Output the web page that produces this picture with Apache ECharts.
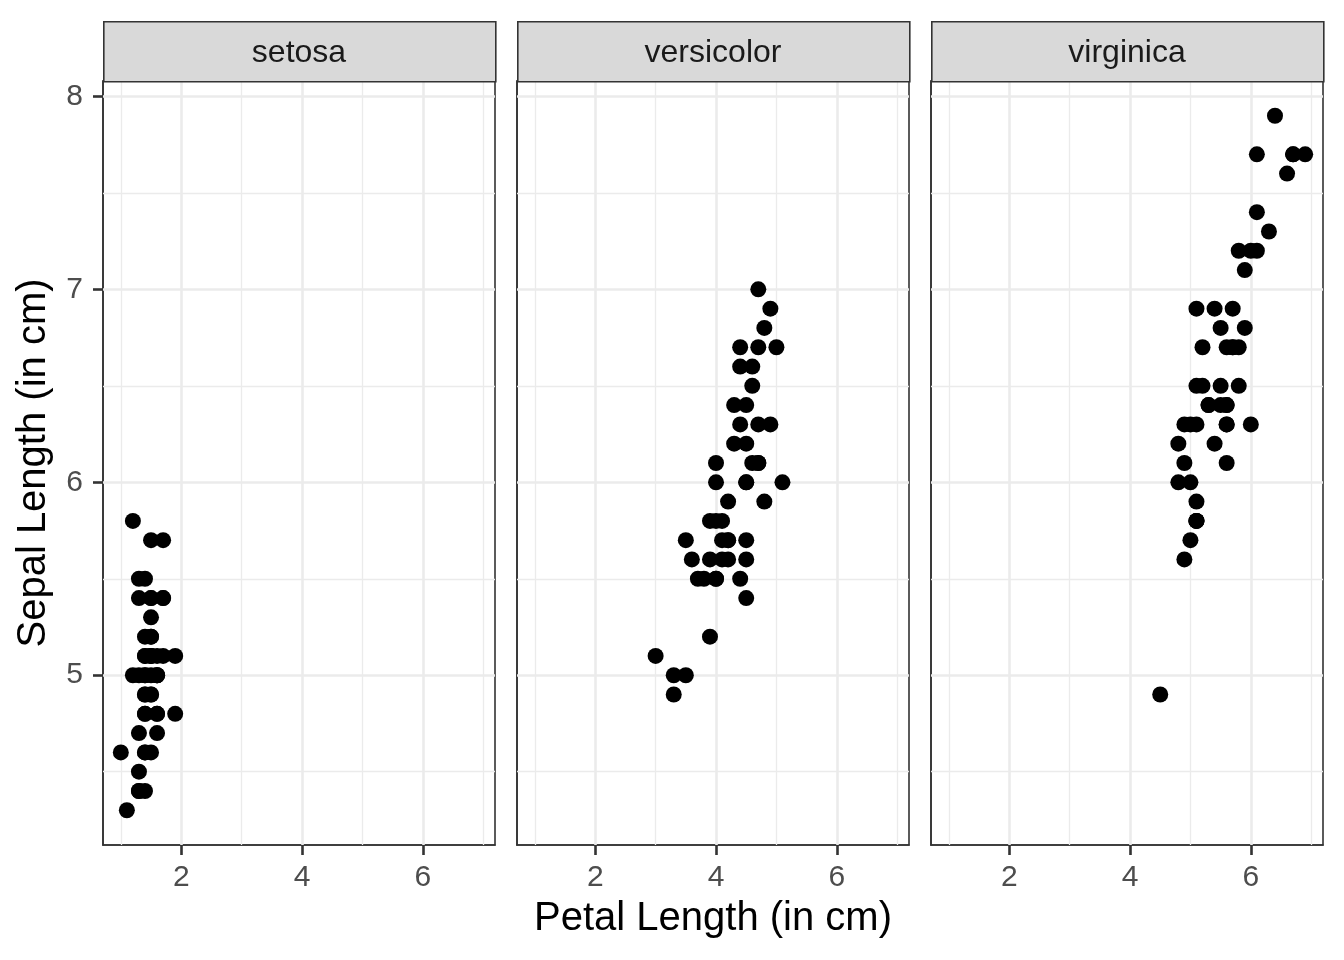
<!DOCTYPE html>
<html>
<head>
<meta charset="utf-8">
<script src="https://cdn.jsdelivr.net/npm/echarts@6/dist/echarts.min.js"></script>
<style>
html,body{margin:0;padding:0;background:#fff;}
#chart{width:1344px;height:960px;}
</style>
</head>
<body>
<div id="chart"></div>
<script>
// ---- data (iris: Petal.Length, Sepal.Length) ----
var species = ['setosa', 'versicolor', 'virginica'];
var setosaPetal = [1.4,1.4,1.3,1.5,1.4,1.7,1.4,1.5,1.4,1.5,1.5,1.6,1.4,1.1,1.2,1.5,1.3,1.4,1.7,1.5,1.7,1.5,1.0,1.7,1.9,1.6,1.6,1.5,1.4,1.6,1.6,1.5,1.5,1.4,1.5,1.2,1.3,1.4,1.3,1.5,1.3,1.3,1.3,1.6,1.9,1.4,1.6,1.4,1.5,1.4];
var setosaSepal = [5.1,4.9,4.7,4.6,5.0,5.4,4.6,5.0,4.4,4.9,5.4,4.8,4.8,4.3,5.8,5.7,5.4,5.1,5.7,5.1,5.4,5.1,4.6,5.1,4.8,5.0,5.0,5.2,5.2,4.7,4.8,5.4,5.2,5.5,4.9,5.0,5.5,4.9,4.4,5.1,5.0,4.5,4.4,5.0,5.1,4.8,5.1,4.6,5.3,5.0];
var versicolorPetal = [4.7,4.5,4.9,4.0,4.6,4.5,4.7,3.3,4.6,3.9,3.5,4.2,4.0,4.7,3.6,4.4,4.5,4.1,4.5,3.9,4.8,4.0,4.9,4.7,4.3,4.4,4.8,5.0,4.5,3.5,3.8,3.7,3.9,5.1,4.5,4.5,4.7,4.4,4.1,4.0,4.4,4.6,4.0,3.3,4.2,4.2,4.2,4.3,3.0,4.1];
var versicolorSepal = [7.0,6.4,6.9,5.5,6.5,5.7,6.3,4.9,6.6,5.2,5.0,5.9,6.0,6.1,5.6,6.7,5.6,5.8,6.2,5.6,5.9,6.1,6.3,6.1,6.4,6.6,6.8,6.7,6.0,5.7,5.5,5.5,5.8,6.0,5.4,6.0,6.7,6.3,5.6,5.5,5.5,6.1,5.8,5.0,5.6,5.7,5.7,6.2,5.1,5.7];
var virginicaPetal = [6.0,5.1,5.9,5.6,5.8,6.6,4.5,6.3,5.8,6.1,5.1,5.3,5.5,5.0,5.1,5.3,5.5,6.7,6.9,5.0,5.7,4.9,6.7,4.9,5.7,6.0,4.8,4.9,5.6,5.8,6.1,6.4,5.6,5.1,5.6,6.1,5.6,5.5,4.8,5.4,5.6,5.1,5.1,5.9,5.7,5.2,5.0,5.2,5.4,5.1];
var virginicaSepal = [6.3,5.8,7.1,6.3,6.5,7.6,4.9,7.3,6.7,7.2,6.5,6.4,6.8,5.7,5.8,6.4,6.5,7.7,7.7,6.0,6.9,5.6,7.7,6.3,6.7,7.2,6.2,6.1,6.4,7.2,7.4,7.9,6.4,6.3,6.1,7.7,6.3,6.4,6.0,6.9,6.7,6.9,5.8,6.8,6.7,6.7,6.3,6.5,6.2,5.9];

var xTicks = [2, 4, 6];
var xMinor = [1, 3, 5, 7];
var yTicks = [5, 6, 7, 8];
var yMinor = [4.5, 5.5, 6.5, 7.5];
var xRange = [0.705, 7.195];
var yRange = [4.12, 8.08];

var petal = [setosaPetal, versicolorPetal, virginicaPetal];
var sepal = [setosaSepal, versicolorSepal, virginicaSepal];

// ---- layout ----
var FONT = 'Liberation Sans, Arial, Helvetica, sans-serif';
var panelLeft = [103, 517, 931];
var panelW = 392;
var panelTop = 81;
var panelH = 764;
var stripTop = 21;
var stripH = 60;

var grids = [], xAxes = [], yAxes = [], series = [], graphics = [];

for (var i = 0; i < 3; i++) {
  grids.push({left: panelLeft[i], top: panelTop, width: panelW, height: panelH,
    show: true, borderColor: '#333333', borderWidth: 1.6, backgroundColor: '#ffffff', containLabel: false});
  var xa = {
    type: 'value', gridIndex: i, min: xRange[0], max: xRange[1],
    axisLine: {show: true, lineStyle: {color: '#333333', width: 1.6}},
    axisTick: {show: true, customValues: xTicks, length: 10, lineStyle: {color: '#333333', width: 2.6}},
    axisLabel: {show: true, customValues: xTicks, color: '#4D4D4D', fontSize: 30, fontFamily: FONT, margin: 18},
    splitLine: {show: false}
  };
  if (i === 1) {
    xa.name = 'Petal Length (in cm)';
    xa.nameLocation = 'middle';
    xa.nameGap = 54;
    xa.nameTextStyle = {color: '#000000', fontSize: 40, fontFamily: FONT};
  }
  xAxes.push(xa);
  var ya = {
    type: 'value', gridIndex: i, min: yRange[0], max: yRange[1],
    axisLine: {show: true, lineStyle: {color: '#333333', width: 1.6}},
    axisTick: {show: i === 0, customValues: yTicks, length: 10, lineStyle: {color: '#333333', width: 2.6}},
    axisLabel: {show: i === 0, customValues: yTicks, color: '#4D4D4D', fontSize: 30, fontFamily: FONT, margin: 20},
    splitLine: {show: false}
  };
  if (i === 0) {
    ya.name = 'Sepal Length (in cm)';
    ya.nameLocation = 'middle';
    ya.nameGap = 49;
    ya.nameTextStyle = {color: '#000000', fontSize: 40, fontFamily: FONT};
  }
  yAxes.push(ya);

  // grid lines via markLine
  var ml = [];
  xMinor.forEach(function (v) { ml.push({xAxis: v, lineStyle: {color: '#EBEBEB', width: 1.3, type: 'solid'}}); });
  yMinor.forEach(function (v) { ml.push({yAxis: v, lineStyle: {color: '#EBEBEB', width: 1.3, type: 'solid'}}); });
  xTicks.forEach(function (v) { ml.push({xAxis: v, lineStyle: {color: '#EBEBEB', width: 2.6, type: 'solid'}}); });
  yTicks.forEach(function (v) { ml.push({yAxis: v, lineStyle: {color: '#EBEBEB', width: 2.6, type: 'solid'}}); });
  series.push({
    type: 'scatter', xAxisIndex: i, yAxisIndex: i, data: [], z: 1, silent: true,
    markLine: {silent: true, symbol: ['none', 'none'], label: {show: false}, animation: false, data: ml}
  });

  var pts = petal[i].map(function (p, k) { return [p, sepal[i][k]]; });
  series.push({
    type: 'scatter', xAxisIndex: i, yAxisIndex: i, data: pts, z: 5,
    symbol: 'circle', symbolSize: 16, itemStyle: {color: '#000000', opacity: 1},
    animation: false
  });

  // facet strip
  graphics.push({
    type: 'rect', left: panelLeft[i], top: stripTop, z: 10,
    shape: {width: panelW, height: stripH},
    style: {fill: '#D9D9D9', stroke: '#333333', lineWidth: 1.6}
  });
  graphics.push({
    type: 'text', z: 11,
    x: panelLeft[i] + panelW / 2, y: stripTop + stripH / 2 + 2,
    style: {text: species[i], fill: '#1A1A1A', font: '32px ' + FONT, textAlign: 'center', textVerticalAlign: 'middle'}
  });
}

var chart = echarts.init(document.getElementById('chart'), null, {renderer: 'canvas'});
chart.setOption({
  backgroundColor: '#ffffff',
  animation: false,
  grid: grids,
  xAxis: xAxes,
  yAxis: yAxes,
  series: series,
  graphic: graphics
});
</script>
</body>
</html>
